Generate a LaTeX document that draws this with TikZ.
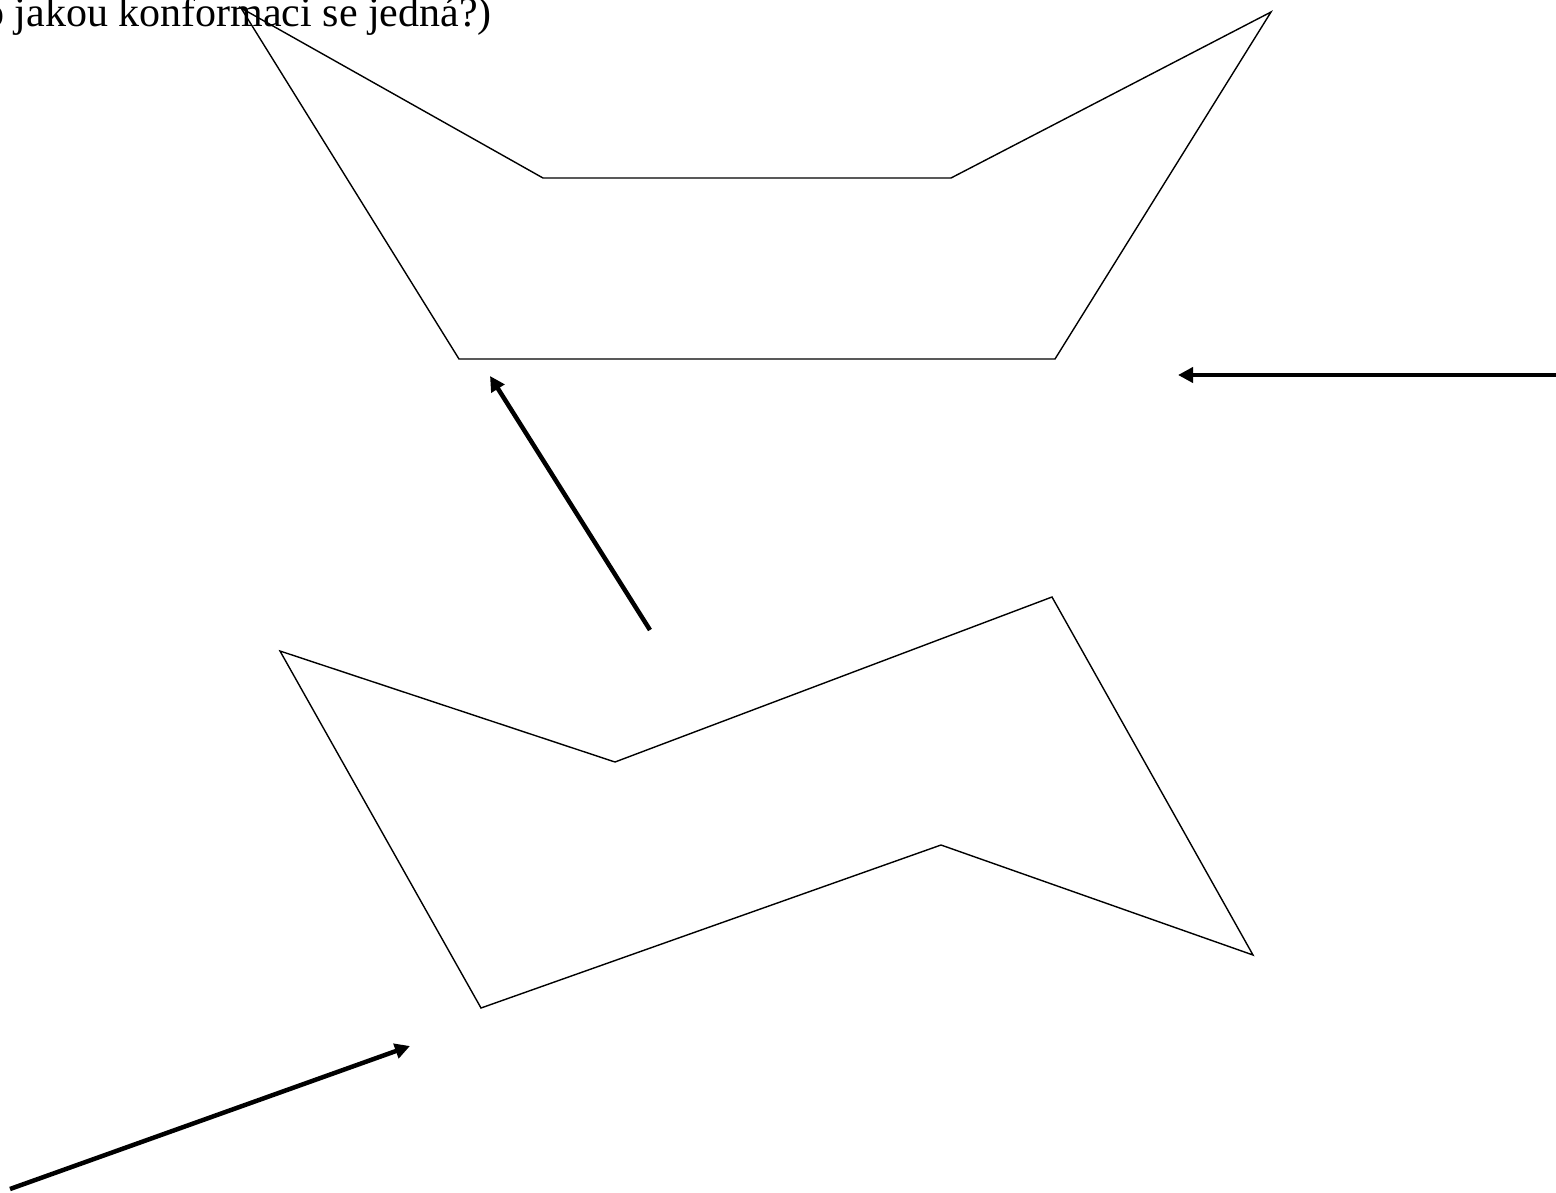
\documentclass[tikz,border=0pt]{standalone}
\usepackage{fontspec}
\setmainfont{Liberation Serif}
\usetikzlibrary{arrows.meta}
\begin{document}
\begin{tikzpicture}[x=1pt,y=-1pt,
  ring/.style={draw=black,line width=1.4pt,line join=miter},
  bigarrow/.style={draw=black,line width=4.5pt,-{Triangle[length=15pt,width=15pt]}}]
\useasboundingbox (0,0) rectangle (1556,1192);
\begin{scope}
\clip (0,0) rectangle (1556,1192);
\node[anchor=base east,inner sep=0pt,font=\fontsize{42}{48}\selectfont] (title) at (492,26) {(o jakou konformaci se jedná?)};
\end{scope}
% top ring (boat)
\draw[ring] (241,8) -- (543,178) -- (951,178) -- (1271,12) -- (1055,359) -- (459,359) -- cycle;
% bottom ring (chair)
\draw[ring] (280,651) -- (615,762) -- (1052,597) -- (1253,955) -- (941,845) -- (481,1008) -- cycle;
% arrows
\coordinate (a1s) at (1556,375); \coordinate (a1e) at (1178,375);
\coordinate (a2s) at (650,630); \coordinate (a2e) at (490,376);
\coordinate (a3s) at (10,1189); \coordinate (a3e) at (410,1046);
\draw[bigarrow] (a1s) -- (a1e);
\draw[bigarrow] (a2s) -- (a2e);
\draw[bigarrow] (a3s) -- (a3e);
\end{tikzpicture}
\end{document}
